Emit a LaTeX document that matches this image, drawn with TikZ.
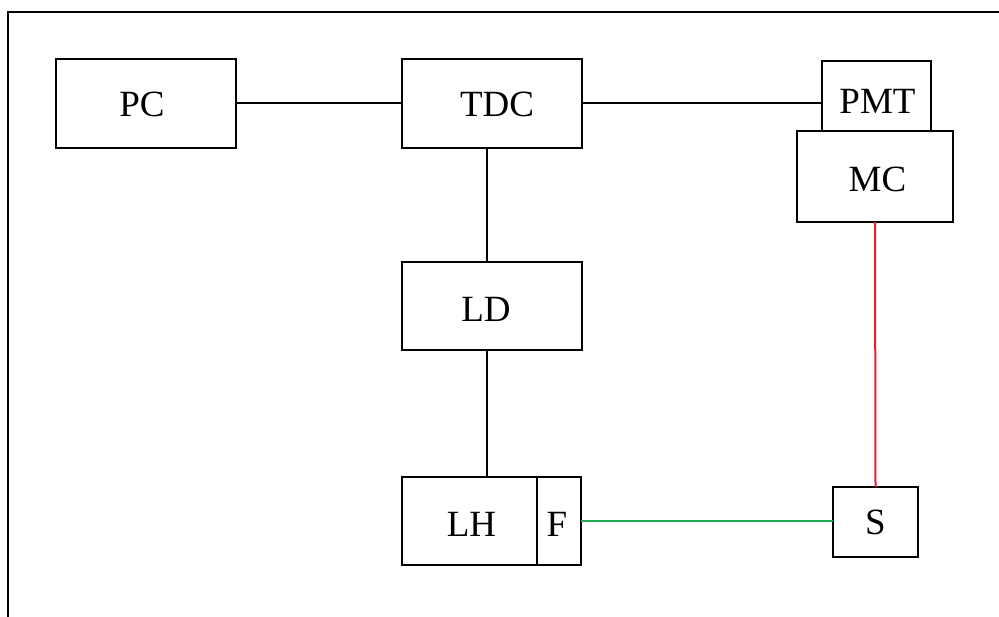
\documentclass[tikz,border=0pt]{standalone}
\usepackage{fontspec}
\setmainfont{Liberation Serif}
\usetikzlibrary{calc}
\newcommand\txtshift[3]{\raisebox{-#2pt}[\height][\depth]{\hspace*{#1pt}#3\hspace*{-#1pt}}}
\tikzset{
  box/.style={draw=black, line width=2pt, rectangle, inner sep=0pt, outer sep=0pt,
    font=\fontsize{37}{40}\selectfont},
  wire/.style={draw=black, line width=2pt},
  redwire/.style={draw=myred, line width=2pt},
  greenwire/.style={draw=mygreen, line width=2pt},
  frameline/.style={draw=black, line width=2pt}
}
\definecolor{myred}{RGB}{232,32,40}
\definecolor{mygreen}{RGB}{30,170,80}
\begin{document}
\begin{tikzpicture}[x=1pt,y=-1pt]
\useasboundingbox (0,0) rectangle (999,617);
% partial outer frame
\coordinate (fr1) at (999,12);
\coordinate (fr2) at (8,12);
\coordinate (fr3) at (8,617);
\draw[frameline] (fr1) -- (fr2) -- (fr3);
% boxes
\node[box, minimum width=180pt, minimum height=89pt] (pc) at (146,103.5) {\txtshift{-4}{1}{PC}};
\node[box, minimum width=180pt, minimum height=89pt] (tdc) at (492,103.5) {\txtshift{5}{1}{TDC}};
\node[box, minimum width=180pt, minimum height=88pt] (ld) at (492,306) {\txtshift{-6}{3}{LD}};
\node[box, minimum width=135pt, minimum height=88pt] (lh) at (469.5,521) {\txtshift{2}{3.5}{LH}};
\node[box, minimum width=44pt, minimum height=88pt] (f) at (559,521) {\txtshift{-2}{3.5}{F}};
\node[box, minimum width=109pt, minimum height=70pt] (pmt) at (876.5,96) {\txtshift{1}{5}{PMT}};
\node[box, minimum width=156pt, minimum height=91pt] (mc) at (875,176.5) {\txtshift{2.5}{3}{MC}};
\node[box, minimum width=85pt, minimum height=70pt] (s) at (875.5,522) {\txtshift{0}{0.5}{S}};
% connectors
\draw[wire] (pc.east) -- (tdc.west);
\draw[wire] (tdc.east) -- (tdc.east -| pmt.west);
\draw[wire] ([xshift=-5pt]tdc.south) -- ([xshift=-5pt]ld.north);
\draw[wire] ([xshift=-5pt]ld.south) -- ([xshift=-5pt]ld.south |- lh.north);
\draw[redwire] (mc.south) -- (s.north);
\draw[greenwire] (f.east) -- (f.east -| s.west);
\end{tikzpicture}
\end{document}
